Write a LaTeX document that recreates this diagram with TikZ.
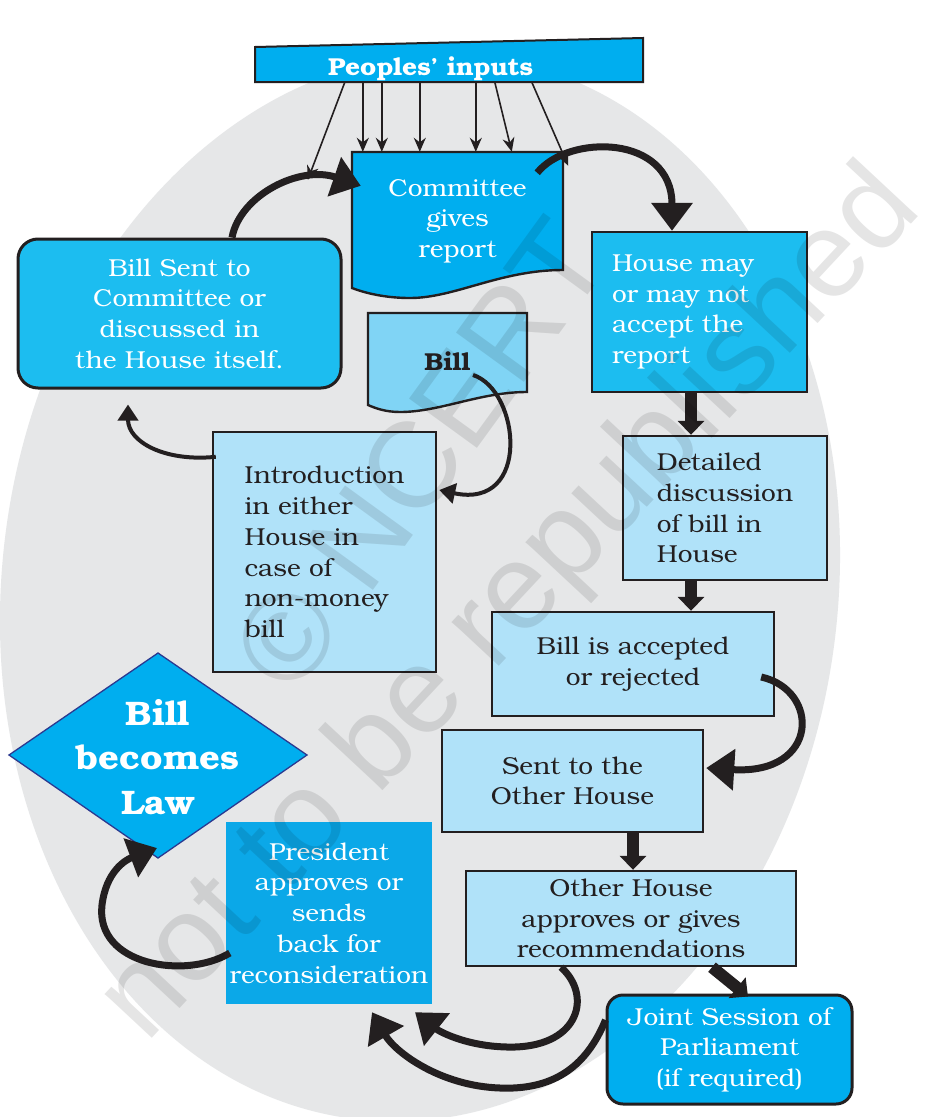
\documentclass[tikz,border=0pt]{standalone}
\usepackage{fontspec}
\setmainfont{texgyrebonum}[Extension=.otf, UprightFont=*-regular, BoldFont=*-bold, ItalicFont=*-italic, BoldItalicFont=*-bolditalic, FakeStretch=1.07]
\newfontfamily\wmfont{Liberation Sans}
\usetikzlibrary{arrows.meta,calc}
\definecolor{bgray}{HTML}{E6E7E8}
\definecolor{cyanA}{HTML}{00AEEF}
\definecolor{cyanB}{HTML}{1CBDF0}
\definecolor{cyanP}{HTML}{0BA8E8}
\definecolor{lightb}{HTML}{B0E2F9}
\definecolor{billb}{HTML}{80D4F5}
\definecolor{ink}{HTML}{231F20}
\definecolor{dblue}{HTML}{2B3990}
\begin{document}
\begin{tikzpicture}[x=1pt,y=-1pt,
  txt/.style={font=\fontsize{24.5}{30.7}\selectfont},
  btxt/.style={font=\fontsize{24.5}{30.7}\selectfont\bfseries},
  myframe/.style={draw=ink, line width=2.4pt},
  darkbox/.style={myframe, fill=cyanA, text=white, txt, inner sep=0pt, align=center},
  lightbox/.style={myframe, fill=lightb, text=ink, txt, inner sep=0pt, align=center},
  thinarr/.style={draw=ink, line width=1.6pt, -{Stealth[length=14pt,width=12pt]}},
  medarr/.style={draw=ink, line width=4pt, -{Triangle[length=16pt,width=20pt]}},
  thkarr/.style={draw=ink, line width=7pt, -{Triangle[length=28pt,width=40pt]}},
  blkarr/.style={draw=ink, line width=12pt, -{Triangle[length=14pt,width=26pt]}},
  wm/.style={font=\fontsize{122}{122}\selectfont\wmfont, text=black, opacity=0.10}
]
\useasboundingbox (0,0) rectangle (940,1117);
\fill[white] (0,0) rectangle (940,1117);
% background oval
\fill[bgray, rotate around={-7:(420,588)}] (420,588) ellipse [x radius=418, y radius=535];

% People's inputs
\fill[cyanA, draw=ink, line width=2pt] (255,47) -- (643,38) -- (643,82) -- (255,82) -- cycle;
\node[btxt, text=white, minimum width=388pt, minimum height=44pt, inner sep=0pt, text width=388pt, align=left]
  (peoples) at (449,60) {\hspace*{73pt}\raisebox{-15pt}[0pt][0pt]{Peoples' inputs}};

% Committee document
\fill[cyanA, draw=ink, line width=2.4pt] (352,152) -- (563,152) -- (563,270)
  .. controls (500,270) and (455,298) .. (410,298)
  .. controls (385,298) and (365,293) .. (352,288) -- cycle;
\node[txt, text=white, align=center, inner sep=0pt, minimum width=211pt, minimum height=138pt]
  (committee) at (457.5,221) {Committee\\gives\\report};

% Bill document
\fill[billb, draw=ink, line width=2.4pt] (368,313) -- (527,313) -- (527,392)
  .. controls (480,392) and (440,412) .. (400,412)
  .. controls (385,412) and (375,408) .. (368,405) -- cycle;
\node[btxt, text=ink, inner sep=0pt, minimum width=159pt, minimum height=92pt] (bill) at (447.5,361) {Bill};

% Boxes
\node[darkbox, fill=cyanB, rounded corners=20pt, line width=3pt, minimum width=323pt, minimum height=149pt]
  (billsent) at (179.5,313.5) {Bill Sent to\\Committee or\\discussed in\\the House itself.};
\node[darkbox, fill=cyanB, minimum width=215pt, minimum height=160pt, text width=175pt, inner xsep=20pt, align=left]
  (house) at (699.5,312) {House may\\or may not\\accept the\\report};
\node[lightbox, minimum width=223pt, minimum height=240pt, align=left]
  (intro) at (324.5,552) {Introduction\\in either\\House in\\case of\\non-money\\bill};
\node[lightbox, minimum width=204pt, minimum height=144pt, align=left]
  (detailed) at (725,508) {Detailed\\discussion\\of bill in\\House};
\node[lightbox, minimum width=282pt, minimum height=104pt]
  (accepted) at (633,664) {Bill is accepted\\or rejected};
\node[lightbox, minimum width=261pt, minimum height=102pt]
  (sent) at (572.5,781) {Sent to the\\Other House};
\node[lightbox, minimum width=330pt, minimum height=95pt]
  (other) at (631,918.5) {Other House\\approves or gives\\recommendations};
\node[darkbox, rounded corners=16pt, line width=3pt, minimum width=245pt, minimum height=109pt]
  (joint) at (729.5,1049.5) {Joint Session of\\Parliament\\(if required)};
\node[fill=cyanP, text=white, txt, align=center, inner sep=0pt, minimum width=206pt, minimum height=182pt]
  (president) at (329,913) {President\\approves or\\sends\\back for\\reconsideration};

% Bill becomes Law diamond
\fill[cyanA, draw=dblue, line width=1.3pt] (9,755) -- (158,653) -- (307,755) -- (158,858) -- cycle;
\node[text=white, font=\fontsize{34}{44.5}\selectfont\bfseries, align=center, inner sep=0pt]
  (law) at (158,757) {Bill\\becomes\\Law};

% thin arrows from peoples' inputs
\draw[thinarr] ([xshift=90pt]peoples.south west) -- ([xshift=-44pt,yshift=-28pt]committee.north west);
\draw[thinarr] ([xshift=108pt]peoples.south west) -- ([xshift=11pt]committee.north west);
\draw[thinarr] ([xshift=127pt]peoples.south west) -- ([xshift=30pt]committee.north west);
\draw[thinarr] ([xshift=165pt]peoples.south west) -- ([xshift=68pt]committee.north west);
\draw[thinarr] ([xshift=221pt]peoples.south west) -- ([xshift=124pt]committee.north west);
\draw[thinarr] ([xshift=240pt]peoples.south west) -- ([xshift=160pt]committee.north west);
\draw[thinarr] ([xshift=277pt]peoples.south west) -- ([xshift=5pt,yshift=-14pt]committee.north east);

% curved and block arrows
\draw[thkarr] ([xshift=52.5pt]billsent.north) .. controls (240,195) and (300,165) .. ([xshift=9pt,yshift=-34pt]committee.north west);
\draw[thkarr] ([xshift=-26pt,yshift=-21pt]committee.north east) .. controls (568,134) and (672,134) .. ([xshift=-27.5pt]house.north);
\draw[medarr] ([xshift=4pt,yshift=-26pt]intro.north west) .. controls (165,462) and (128,442) .. ([xshift=-51.5pt,yshift=-15pt]billsent.south);
\draw[medarr] ([xshift=25.5pt,yshift=-14pt]bill.center) .. controls (520,390) and (532,510) .. ([xshift=2pt,yshift=62pt]intro.east);
\draw[blkarr] ([xshift=-8.5pt]house.south) -- ([xshift=-34pt]detailed.north);
\draw[blkarr] ([xshift=-34pt]detailed.south) -- ([xshift=58pt]accepted.north);
\draw[thkarr] ([xshift=-14pt,yshift=-13pt]accepted.east) .. controls (820,690) and (820,775) .. ([xshift=2pt,yshift=13pt]sent.east);
\draw[blkarr] ([xshift=60.5pt]sent.south) -- ([xshift=2pt]other.north);
\draw[blkarr] ([xshift=81pt]other.south) -- ([xshift=18.5pt,yshift=-3pt]joint.north);
\draw[thkarr] ([xshift=-70pt]other.south) .. controls (592,995) and (580,1045) .. (515,1047)
  .. controls (470,1048) and (440,1032) .. ([xshift=86pt,yshift=-8pt]president.south);
\draw[thkarr] ([yshift=29.5pt]joint.west) .. controls (585,1070) and (550,1090) .. (500,1088)
  .. controls (440,1086) and (395,1052) .. ([xshift=43pt,yshift=-8pt]president.south);
\draw[thkarr] ([xshift=4pt,yshift=-40pt]president.west) .. controls (185,980) and (95,965) .. (102,905)
  .. controls (106,872) and (125,860) .. ([xshift=-1pt,yshift=-91pt]law.center);

% watermark
\node[wm, rotate=54] (wm1) at (420,455) {© NCERT};
\node[wm, rotate=47] (wm2) at (512,606) {not to be republished};
\end{tikzpicture}
\end{document}
